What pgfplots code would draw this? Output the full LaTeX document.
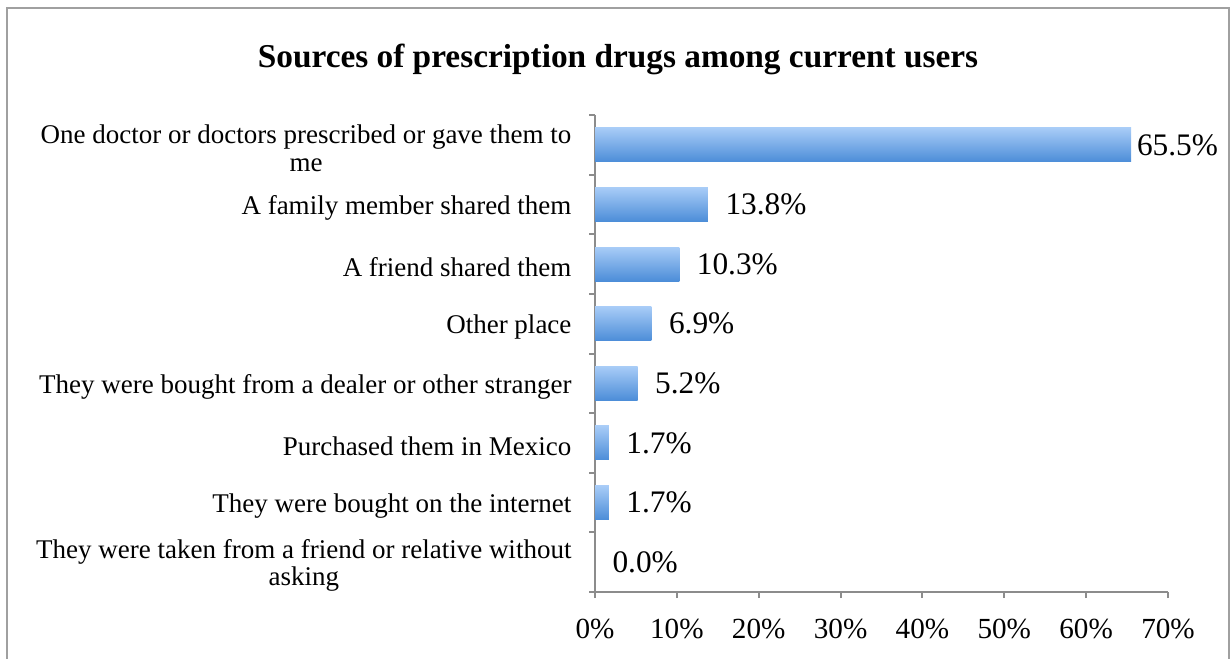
\documentclass[border=0pt]{standalone}
\usepackage{pgfplots}
\pgfplotsset{compat=1.18}
\usepackage{fontspec}
\setmainfont{Liberation Serif}
\definecolor{framegray}{HTML}{A0A0A0}
\definecolor{axisgray}{HTML}{8C8C8C}
\definecolor{barTop}{HTML}{A8CCF7}
\definecolor{barBot}{HTML}{4C8DD8}
\pgfplotsset{
  mybar/.style={xbar, bar width=20.4pt, bar shift=0pt, draw=none, top color=barTop, bottom color=barBot,
    nodes near coords={\pgfmathprintnumber[fixed,fixed zerofill,precision=1]{\pgfplotspointmeta}\%},
    every node near coord/.append style={font=\fontsize{18.8}{20}\selectfont, anchor=west, xshift=#1, text=black}},
  mybar/.default=7pt
}
\begin{document}
\begin{tikzpicture}
\useasboundingbox (0,0) rectangle (738pt,394.8pt);
\draw[framegray, line width=1.4pt] (4.2pt,-5pt) -- (4.2pt,390pt) -- (737.4pt,390pt) -- (737.4pt,-5pt);
\node[font=\fontsize{20}{23}\selectfont\bfseries] at (370.8pt,359pt) {Sources of prescription drugs among current users};
\begin{axis}[
  at={(357pt,39.6pt)}, anchor=south west,
  scale only axis, width=343.8pt, height=286.2pt,
  xmin=0, xmax=70, ymin=-0.5, ymax=7.5, y dir=reverse,
  axis x line*=bottom, axis y line*=left,
  axis line style={axisgray, line width=1.2pt},
  xtick={0,10,...,70},
  xticklabel={\pgfmathprintnumber{\tick}\%},
  /pgf/number format/assume math mode=true,
  x tick label style={font=\fontsize{17.5}{19}\selectfont, yshift=-9pt},
  tick align=outside, major tick length=3.6pt,
  tick style={axisgray, line width=1.2pt},
  ytick={0,...,7},
  ytick style={draw=none},
  yticklabels={{One doctor or doctors prescribed or gave them to\\me},{A family member shared them},{A friend shared them},{Other place},{They were bought from a dealer or other stranger},{Purchased them in Mexico},{They were bought on the internet},{They were taken from a friend or relative without\\asking}},
  y tick label style={font=\fontsize{16.2}{16.5}\selectfont, align=center, xshift=-7pt, yshift=-2pt},
  extra y ticks={-0.5,0.5,...,7.5},
  extra y tick labels={},
  extra y tick style={ytick style={draw=axisgray, line width=1.2pt}},
  clip=false,
]
\addplot[mybar=0pt] coordinates {(65.5,0)};
\addplot[mybar] coordinates {(13.8,1)};
\addplot[mybar] coordinates {(10.3,2)};
\addplot[mybar] coordinates {(6.9,3)};
\addplot[mybar] coordinates {(5.2,4)};
\addplot[mybar] coordinates {(1.7,5)};
\addplot[mybar] coordinates {(1.7,6)};
\addplot[mybar] coordinates {(0.0,7)};
\end{axis}
\end{tikzpicture}
\end{document}
